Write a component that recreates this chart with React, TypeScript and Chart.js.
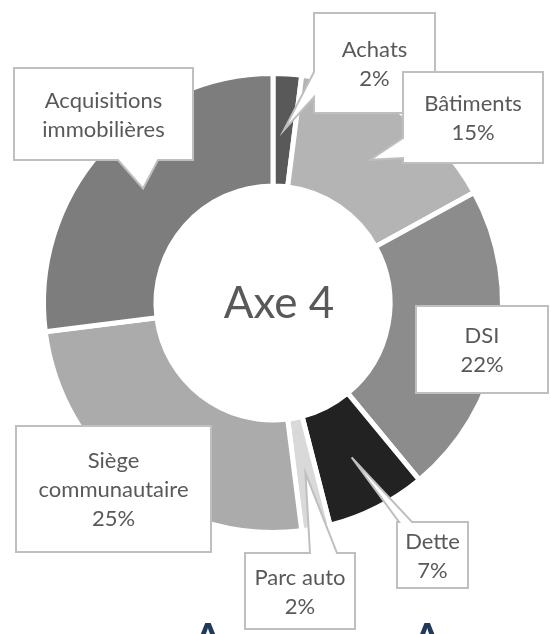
import React, { useEffect, useRef } from "react";
import { Chart, registerables } from "chart.js";

Chart.register(...registerables);

// ---- data ----
const categories = [
  "Achats",
  "Bâtiments",
  "DSI",
  "Dette",
  "Parc auto",
  "Siège communautaire",
  "Acquisitions immobilières",
];
const values = [2, 15, 22, 7, 2, 25, 27];
const labelLines = [
  ["Achats"],
  ["Bâtiments"],
  ["DSI"],
  ["Dette"],
  ["Parc auto"],
  ["Siège", "communautaire"],
  ["Acquisitions", "immobilières"],
];
const showPercent = [true, true, true, true, true, true, false];
const centerTitle = "Axe 4";
const footerText = "Annexe A";

// ---- styles / layout ----
const colors = ["#595959", "#b4b4b4", "#8c8c8c", "#222222", "#d9d9d9", "#ababab", "#7d7d7d"];
type Callout = { x: number; y: number; w: number; h: number; side: string | null; a: number; b: number };
const callouts: Callout[] = [
  { x: 314, y: 13, w: 121, h: 100, side: "left", a: 72, b: 97 },
  { x: 403, y: 72, w: 140, h: 91, side: "left", a: 138, b: 158 },
  { x: 416, y: 306, w: 132, h: 87, side: null, a: 0, b: 0 },
  { x: 397, y: 522, w: 71, h: 66, side: "top", a: 399, b: 412 },
  { x: 245, y: 553, w: 110, h: 76, side: "top", a: 310, b: 337 },
  { x: 16, y: 426, w: 195, h: 126, side: null, a: 0, b: 0 },
  { x: 14, y: 68, w: 179, h: 92, side: "bottom", a: 118, b: 158 },
];
const TEXT_COLOR = "#595959";
const BOX_BORDER = "#bfbfbf";
const FONT = "Lato, 'Open Sans', sans-serif";

const calloutPlugin = {
  id: "callouts",
  afterDraw(chart: any) {
    const ctx: CanvasRenderingContext2D = chart.ctx;
    const meta = chart.getDatasetMeta(0);
    const total = values.reduce((s, v) => s + v, 0);
    ctx.save();
    // center title
    ctx.fillStyle = TEXT_COLOR;
    ctx.font = `44px ${FONT}`;
    ctx.textAlign = "center";
    ctx.textBaseline = "alphabetic";
    const ca = chart.chartArea;
    const cx = (ca.left + ca.right) / 2;
    const cy = (ca.top + ca.bottom) / 2;
    ctx.fillText(centerTitle, cx + 6, cy + 15);

    values.forEach((v, i) => {
      const c = callouts[i];
      const el = meta.data[i];
      const tip = el.tooltipPosition(false);
      const { x, y, w, h, side, a, b } = c;
      ctx.beginPath();
      ctx.moveTo(x, y);
      if (side === "top") {
        ctx.lineTo(a, y);
        ctx.lineTo(tip.x, tip.y);
        ctx.lineTo(b, y);
      }
      ctx.lineTo(x + w, y);
      ctx.lineTo(x + w, y + h);
      if (side === "bottom") {
        ctx.lineTo(b, y + h);
        ctx.lineTo(tip.x, tip.y);
        ctx.lineTo(a, y + h);
      }
      ctx.lineTo(x, y + h);
      if (side === "left") {
        ctx.lineTo(x, b);
        ctx.lineTo(tip.x, tip.y);
        ctx.lineTo(x, a);
      }
      ctx.closePath();
      ctx.fillStyle = "#ffffff";
      ctx.fill();
      ctx.strokeStyle = BOX_BORDER;
      ctx.lineWidth = 2;
      ctx.lineJoin = "miter";
      ctx.stroke();

      const lines = [...labelLines[i]];
      if (showPercent[i]) lines.push(Math.round((v / total) * 100) + "%");
      ctx.fillStyle = TEXT_COLOR;
      ctx.font = `22px ${FONT}`;
      ctx.textAlign = "center";
      ctx.textBaseline = "alphabetic";
      const bx = x + w / 2;
      const by = y + h / 2;
      const n = lines.length;
      lines.forEach((t, k) => {
        ctx.fillText(t, bx, by + (k - (n - 1) / 2) * 29 + 8);
      });
    });
    ctx.restore();
  },
};

export default function App() {
  const ref = useRef<HTMLCanvasElement | null>(null);
  useEffect(() => {
    if (!ref.current) return;
    const chart = new Chart(ref.current, {
      type: "doughnut",
      data: {
        labels: categories,
        datasets: [
          {
            data: values,
            backgroundColor: colors,
            borderColor: "#ffffff",
            borderWidth: 5,
          },
        ],
      },
      options: {
        responsive: false,
        animation: false,
        cutout: "51%",
        layout: { padding: { left: 41, right: 46, top: 71, bottom: 99 } },
        plugins: {
          legend: { display: false },
          tooltip: { enabled: false },
        },
      },
      plugins: [calloutPlugin],
    } as any);
    return () => chart.destroy();
  }, []);

  return (
    <div style={{ position: "fixed", left: 0, top: 0, width: 551, height: 634, overflow: "hidden", background: "#ffffff" }}>
      <canvas ref={ref} width={551} height={634} style={{ position: "absolute", left: 0, top: 0 }} />
      <div
        style={{
          position: "absolute",
          left: 189,
          top: 614,
          fontFamily: FONT,
          fontSize: 56,
          lineHeight: 1,
          letterSpacing: 3,
          color: "#1f3a5a",
          whiteSpace: "nowrap",
        }}
      >
        {footerText}
      </div>
    </div>
  );
}
